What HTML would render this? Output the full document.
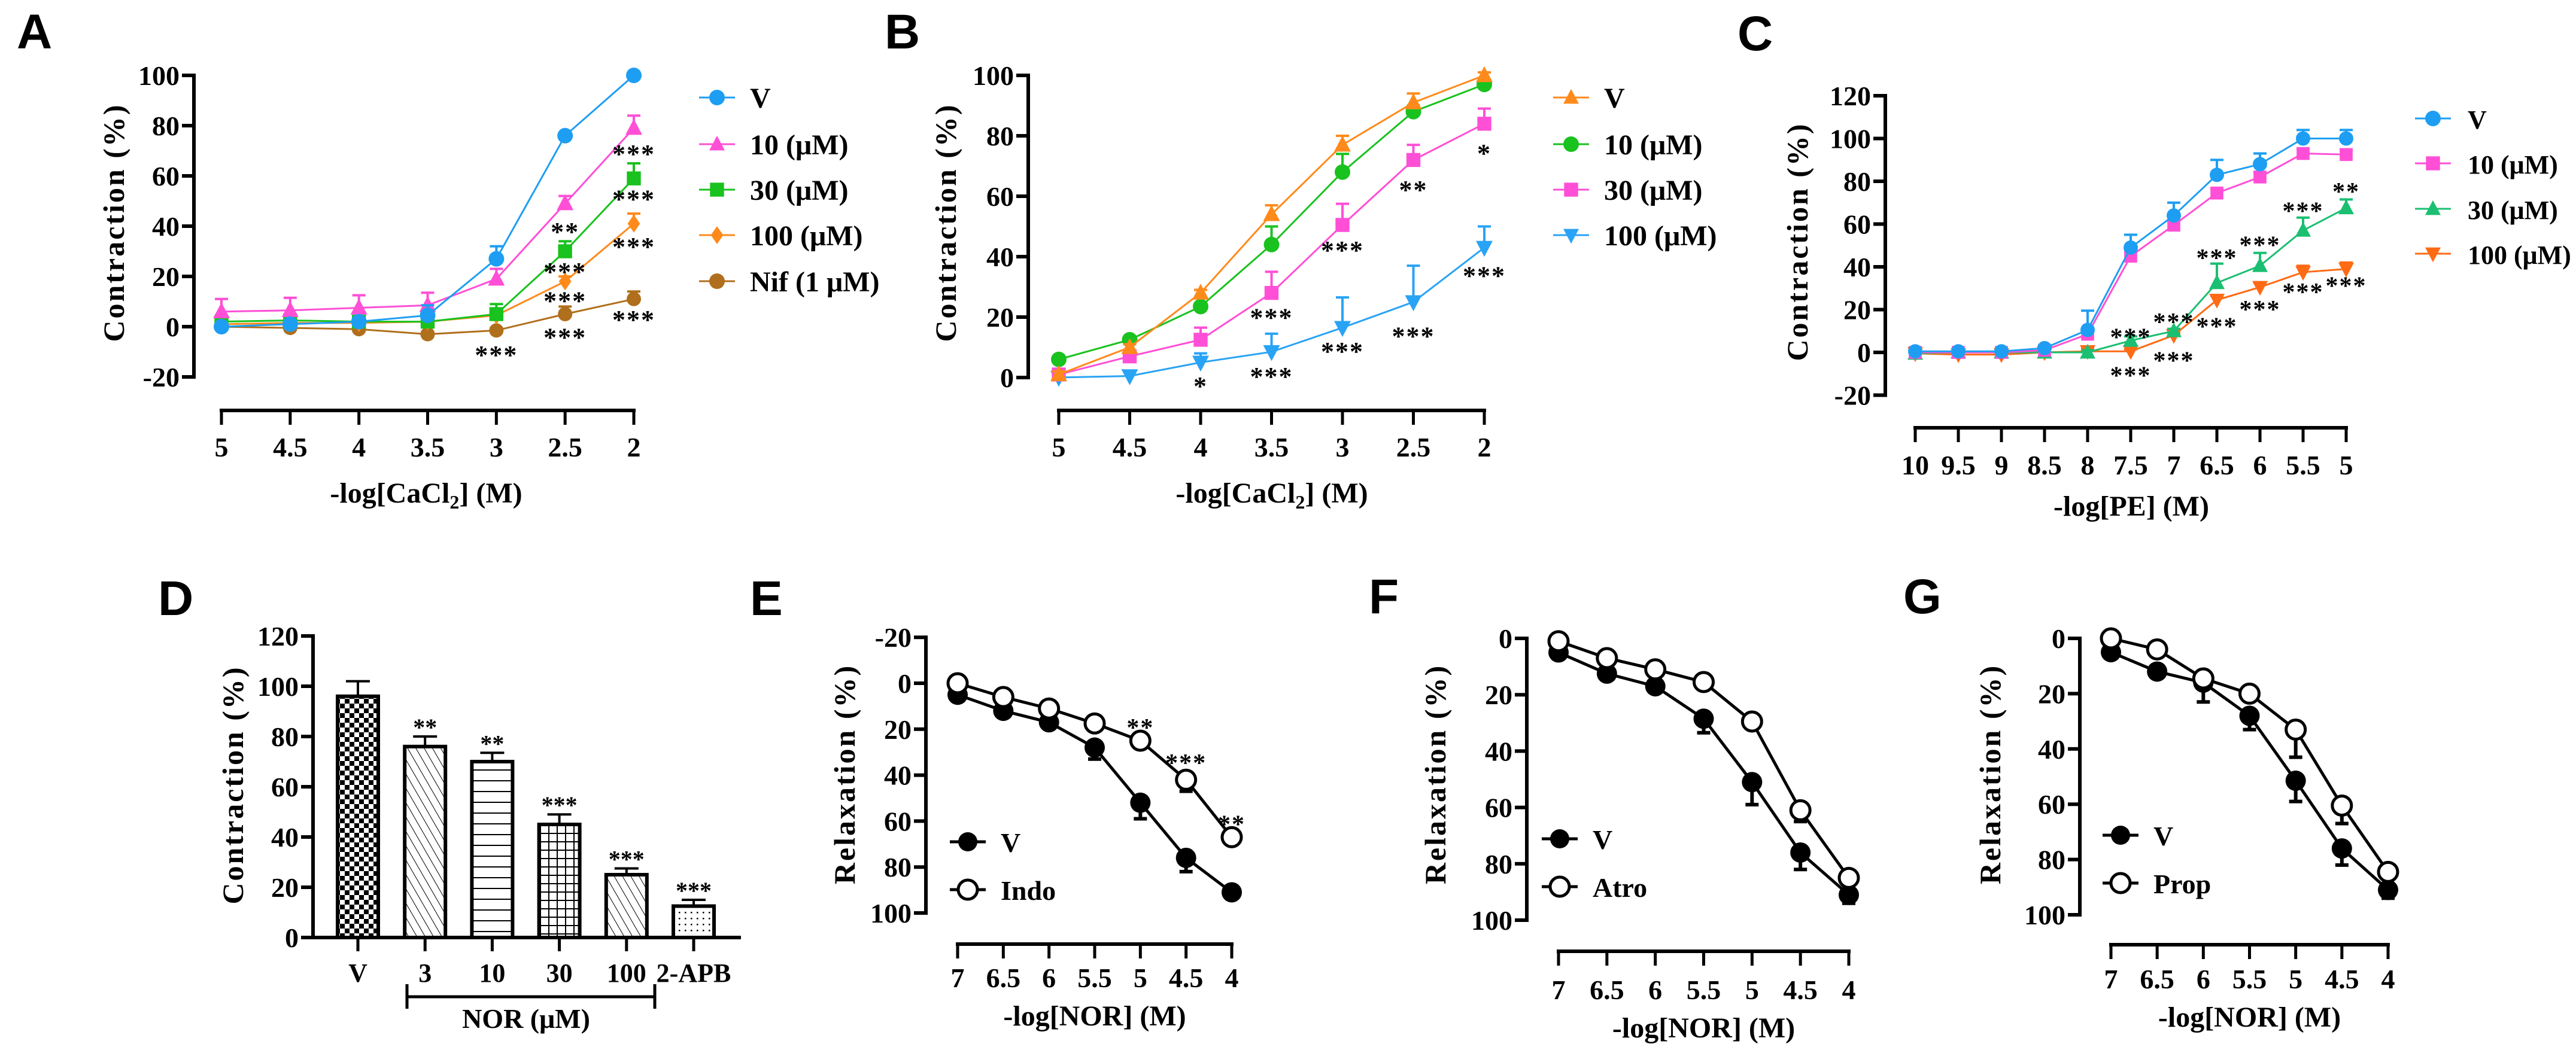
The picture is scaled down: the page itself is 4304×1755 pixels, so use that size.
<!DOCTYPE html>
<html><head><meta charset="utf-8"><style>
html,body{margin:0;padding:0;background:#fff;}
svg{display:block;}
text{font-family:"Liberation Serif",serif;font-weight:bold;fill:#000;}
.lt{font-family:"Liberation Sans",sans-serif;font-weight:bold;}
</style></head><body>
<svg id="fig" width="4304" height="1755" viewBox="0 0 4304 1755" xmlns="http://www.w3.org/2000/svg">
<defs>
<pattern id="pCheck" width="16" height="16" patternUnits="userSpaceOnUse"><rect width="16" height="16" fill="#fff"/><rect width="8" height="8" fill="#000"/><rect x="8" y="8" width="8" height="8" fill="#000"/></pattern>
<pattern id="pDiag" width="12" height="12" patternUnits="userSpaceOnUse" patternTransform="rotate(-30)"><rect width="12" height="12" fill="#fff"/><line x1="0" y1="0" x2="0" y2="12" stroke="#000" stroke-width="2"/></pattern>
<pattern id="pHor" width="10" height="18" patternUnits="userSpaceOnUse"><rect width="10" height="18" fill="#fff"/><line x1="0" y1="9" x2="10" y2="9" stroke="#000" stroke-width="2"/></pattern>
<pattern id="pGrid" width="14" height="14" patternUnits="userSpaceOnUse"><rect width="14" height="14" fill="#fff"/><line x1="7" y1="0" x2="7" y2="14" stroke="#000" stroke-width="2"/><line x1="0" y1="7" x2="14" y2="7" stroke="#000" stroke-width="2"/></pattern>
<pattern id="pDot" width="10" height="10" patternUnits="userSpaceOnUse"><rect width="10" height="10" fill="#fff"/><rect x="4" y="4" width="2.5" height="2.5" fill="#000"/></pattern>
</defs>
<g id="root"></g>
</svg>
<script>
// ---------- Panel A data ----------
const A_x = [5,4.5,4,3.5,3,2.5,2];
const A_V = [0,1,2,4.5,27,76,100];
const A_V_err = [1,1,1,4,5,1,1];
const A_10 = [6,6.5,7.5,8.5,19,49,79];
const A_10_err = [5,5,5,5,4,3,5];
const A_30 = [2,2.5,2,2,5,30,59];
const A_30_err = [2,2,1,1,4,4,6];
const A_100 = [1,1.5,1.5,2,4.5,18,41];
const A_100_err = [1,1,1,1,1,2,4];
const A_Nif = [0,-0.5,-1,-3,-1.5,5,11];
const A_Nif_err = [1,1,1,1,1,3,3];
const A_legend = ["V","10 (μM)","30 (μM)","100 (μM)","Nif (1 μM)"];
const A_xticks = ["5","4.5","4","3.5","3","2.5","2"];
const A_yticks = [-20,0,20,40,60,80,100];
const A_stars = [[3,-9,"***"],[2.5,40,"**"],[2.5,24,"***"],[2.5,12.5,"***"],[2.5,-2,"***"],[2,71,"***"],[2,53,"***"],[2,34,"***"],[2,5,"***"]];
// ---------- Panel B data ----------
const B_x = [5,4.5,4,3.5,3,2.5,2];
const B_V = [1,10,28,54,77,91,100];
const B_V_err = [1,1,1,3,3,3,1];
const B_10 = [6,12.5,23.5,44,68,88,97];
const B_10_err = [1,1,1,6,6,2,1];
const B_30 = [1,7,12.5,28,50.5,72,84];
const B_30_err = [1,1,4,7,7,5,5];
const B_100 = [0,0.5,5,8.5,16.5,25,43];
const B_100_err = [0,0,3,6,10,12,7];
const B_legend = ["V","10 (μM)","30 (μM)","100 (μM)"];
const B_yticks = [0,20,40,60,80,100];
const B_stars = [[4,-1,"*"],[3.5,21.7,"***"],[3.5,2.2,"***"],[3,44,"***"],[3,10.5,"***"],[2.5,64,"**"],[2.5,15.5,"***"],[2,76,"*"],[2,35.5,"***"]];
// ---------- Panel C data ----------
const C_x = [10,9.5,9,8.5,8,7.5,7,6.5,6,5.5,5];
const C_V = [0.5,0.5,0.5,2,10.5,49,64,83,88,100,100];
const C_V_err = [0,0,0,1,9,6,6,7,5,4,4];
const C_10 = [0,0,0,1,8.5,45,59.5,74.5,82,93,92.5];
const C_10_err = [0,0,0,1,1,2,2,2,2,2,2];
const C_30 = [-0.5,0,0,0,0,5.5,10,32.5,40.5,57,67.5];
const C_30_err = [0,0,0,0,1,2,1,9,6,6,4];
const C_100 = [-0.5,-1,-1,0,0.5,0.5,8,24.5,30.5,37.5,39];
const C_100_err = [0,0,0,0,1,1,1,2,2,3,3];
const C_legend = ["V","10 (μM)","30 (μM)","100 (μM)"];
const C_xticks = ["10","9.5","9","8.5","8","7.5","7","6.5","6","5.5","5"];
const C_yticks = [-20,0,20,40,60,80,100,120];
const C_stars = [[7.5,10,"***"],[7.5,-8,"***"],[7,17,"***"],[7,-1,"***"],[6.5,47,"***"],[6.5,15,"***"],[6,53,"***"],[6,23,"***"],[5.5,69,"***"],[5.5,31,"***"],[5,78,"**"],[5,34,"***"]];
// ---------- Panel D data ----------
const D_cats = ["V","3","10","30","100","2-APB"];
const D_vals = [96,76,70,45,25,12.5];
const D_err = [6,4,3.5,4,2.5,2.5];
const D_sig = ["","**","**","***","***","***"];
const D_yticks = [0,20,40,60,80,100,120];
// ---------- Panels E/F/G data ----------
const N_x = [7,6.5,6,5.5,5,4.5,4];
const N_xticks = ["7","6.5","6","5.5","5","4.5","4"];
const E_V = [5,12,17,28,52,76,91];
const E_V_err = [0,0,0,5,7,6,0];
const E_Indo = [0,6,11,17.5,25,42,67];
const E_Indo_err = [0,0,0,0,0,5,0];
const E_yticks = [-20,0,20,40,60,80,100];
const E_stars = [[5,16.7,"**"],[4.5,32,"***"],[4,58.7,"**"]];
const F_V = [5,12.5,17,28.5,51,76,91];
const F_V_err = [0,0,0,5,8,6,3];
const F_Atro = [1,7,11,15.5,29.5,61,85];
const F_Atro_err = [0,0,0,0,0,4,0];
const G_V = [5,12,16,28,51.5,76,91];
const G_V_err = [0,0,7,5,7.5,6,3];
const G_Prop = [0,4,14.5,20,33,60.5,84.5];
const G_Prop_err = [0,0,0,0,10,6.5,0];
const NOR_yticks = [0,20,40,60,80,100];

const NS = "http://www.w3.org/2000/svg";
const root = document.getElementById('root');
function mk(tag, attrs, parent){const e=document.createElementNS(NS,tag);for(const k in attrs)e.setAttribute(k,attrs[k]);(parent||root).appendChild(e);return e;}
function lin(d0,d1,r0,r1){return v=>r0+(v-d0)*(r1-r0)/(d1-d0);}
function txt(x,y,s,size,anchor,parent,cls){const t=mk('text',{x:x,y:y,'font-size':size,'text-anchor':anchor||'start'},parent);if(cls)t.setAttribute('class',cls);t.textContent=s;return t;}

function marker(shape,x,y,r,color,parent,filled){
  let e;
  if(shape==='circle') e=mk('circle',{cx:x,cy:y,r:r},parent);
  else if(shape==='square') e=mk('rect',{x:x-r*0.9,y:y-r*0.9,width:r*1.8,height:r*1.8},parent);
  else if(shape==='tri') e=mk('polygon',{points:`${x},${y-r*1.1} ${x+r},${y+r*0.8} ${x-r},${y+r*0.8}`},parent);
  else if(shape==='dtri') e=mk('polygon',{points:`${x},${y+r*1.1} ${x+r},${y-r*0.8} ${x-r},${y-r*0.8}`},parent);
  else if(shape==='diamond') e=mk('polygon',{points:`${x},${y-r*1.15} ${x+r*0.8},${y} ${x},${y+r*1.15} ${x-r*0.8},${y}`},parent);
  if(filled===false){e.setAttribute('fill','#fff');e.setAttribute('stroke',color);e.setAttribute('stroke-width','5');}
  else e.setAttribute('fill',color);
  return e;
}

function panelLetter(ch,x,y){
  const t=txt(x,y,ch,82,'start',root,'lt');
  
  
}

function yAxis(g,ax,ys,ticks,top,bottom,pfx){
  const l=mk('line',{x1:ax,y1:top-3,x2:ax,y2:bottom+3,stroke:'#000','stroke-width':6},g);
  
  
  ticks.forEach(v=>{
    const y=ys(v);
    mk('line',{x1:ax-20,y1:y,x2:ax,y2:y,stroke:'#000','stroke-width':6},g);
    const t=txt(ax-24,y+16,String(v),46,'end',g);
    
    
  });
}
function xAxis(g,ay,xs,xvals,labels,base,pfx){
  const x0=xs(xvals[0]),x1=xs(xvals[xvals.length-1]);
  const l=mk('line',{x1:x0-3,y1:ay,x2:x1+3,y2:ay,stroke:'#000','stroke-width':6},g);
  
  
  xvals.forEach((v,i)=>{
    const x=xs(v);
    mk('line',{x1:x,y1:ay,x2:x,y2:ay+24,stroke:'#000','stroke-width':5},g);
    const t=txt(x,base,labels[i],46,'middle',g);
    
    
  });
}
function titles(g,xt,xx,xy,yt,yx,yy,pfx){
  const a=txt(xx,xy,'',48,'middle',g);
  a.innerHTML=xt;
  
  
  const b=txt(0,0,yt,50,'middle',g);
  b.setAttribute('transform',`translate(${yx},${yy}) rotate(-90)`);
  b.setAttribute('letter-spacing','3');
  b.setAttribute('dy','17');
  
  
}
function series(g,xs,ys,xv,vals,errs,color,shape,r,lw,name,dir,filled){
  const sg=mk('g',{},g);
  
  
  const pts=vals.map((v,i)=>xs(xv[i])+','+ys(v)).join(' ');
  const pl=mk('polyline',{points:pts,fill:'none',stroke:color,'stroke-width':lw},sg);
  
  
  vals.forEach((v,i)=>{
    const x=xs(xv[i]);
    if(errs[i]>0){
      const ye=ys(v+errs[i]);
      const eb=mk('path',{d:`M${x},${ys(v)}V${ye}M${x-11},${ye}H${x+11}`,stroke:color,'stroke-width':lw+1,fill:'none'},sg);
      
      
    }
    const m=marker(shape,x,ys(v),r,color,sg,filled);
    
    
  });
}
function stars(g,xs,ys,list,size){
  list.forEach(s=>{
    const t=txt(xs(s[0]),ys(s[1])+24,s[2],size||44,'middle',g);
    t.setAttribute('letter-spacing','2');
    
    
  });
}
function legend(g,items,x,ys,tx,size,r,lw,pfx){
  items.forEach((it,i)=>{
    const lg=mk('g',{},g);
    
    
    mk('line',{x1:x-30,y1:ys[i],x2:x+30,y2:ys[i],stroke:it.color,'stroke-width':lw},lg);
    marker(it.shape,x,ys[i],r,it.color,lg,it.filled);
    const t=txt(tx,ys[i]+17,it.label,size,'start',lg);
    
    
  });
}

const blue='#1e9ef2', pink='#ff4fd6', green='#19c21e', orange='#ff8a1c', brown='#b06f1c', teal='#1bbf72', orng2='#ff6a14';

// ---------- Panel A ----------
(function(){
  const g=mk('g',{});
  
  
  panelLetter('A',28,81);
  const xs=lin(5,2,370,1059), ys=lin(0,100,546,126);
  yAxis(g,324,ys,A_yticks,ys(100),ys(-20),'panel-a');
  xAxis(g,686,xs,A_x,A_xticks,763,'panel-a');
  titles(g,'-log[CaCl<tspan font-size="32" dy="10">2</tspan><tspan dy="-10">] (M)</tspan>',712,840,'Contraction (%)',190,372,'panel-a');
  series(g,xs,ys,A_x,A_Nif,A_Nif_err,brown,'circle',12,3,'series-a-nif');
  series(g,xs,ys,A_x,A_100,A_100_err,orange,'diamond',13,3,'series-a-100um');
  series(g,xs,ys,A_x,A_30,A_30_err,green,'square',13,3,'series-a-30um');
  series(g,xs,ys,A_x,A_10,A_10_err,pink,'tri',14,3,'series-a-10um');
  series(g,xs,ys,A_x,A_V,A_V_err,blue,'circle',13,3,'series-a-v');
  stars(g,xs,ys,A_stars);
  legend(g,[{label:A_legend[0],color:blue,shape:'circle'},{label:A_legend[1],color:pink,shape:'tri'},{label:A_legend[2],color:green,shape:'square'},{label:A_legend[3],color:orange,shape:'diamond'},{label:A_legend[4],color:brown,shape:'circle'}],1198,[163,241,317,393,470],1253,48,13,3,'panel-a');
})();

// ---------- Panel B ----------
(function(){
  const g=mk('g',{});
  
  
  panelLetter('B',1478,81);
  const xs=lin(5,2,1769,2480), ys=lin(0,100,631,126);
  yAxis(g,1718,ys,B_yticks,ys(100),ys(0),'panel-b');
  xAxis(g,686,xs,B_x,A_xticks,763,'panel-b');
  titles(g,'-log[CaCl<tspan font-size="32" dy="10">2</tspan><tspan dy="-10">] (M)</tspan>',2125,840,'Contraction (%)',1580,372,'panel-b');
  series(g,xs,ys,B_x,B_100,B_100_err,'#29a3f5','dtri',14,3,'series-b-100um');
  series(g,xs,ys,B_x,B_30,B_30_err,pink,'square',13,3,'series-b-30um');
  series(g,xs,ys,B_x,B_10,B_10_err,green,'circle',13,3,'series-b-10um');
  series(g,xs,ys,B_x,B_V,B_V_err,orange,'tri',14,3,'series-b-v');
  stars(g,xs,ys,B_stars);
  legend(g,[{label:B_legend[0],color:orange,shape:'tri'},{label:B_legend[1],color:green,shape:'circle'},{label:B_legend[2],color:pink,shape:'square'},{label:B_legend[3],color:'#29a3f5',shape:'dtri'}],2625,[163,241,317,393],2680,48,13,3,'panel-b');
})();

// ---------- Panel C ----------
(function(){
  const g=mk('g',{});
  
  
  panelLetter('C',2903,84);
  const xs=lin(10,5,3200,3920), ys=lin(0,120,589,160);
  yAxis(g,3150,ys,C_yticks,ys(120),ys(-20),'panel-c');
  xAxis(g,715,xs,C_x,C_xticks,793,'panel-c');
  titles(g,'-log[PE] (M)',3561,862,'Contraction (%)',3003,404,'panel-c');
  series(g,xs,ys,C_x,C_100,C_100_err,orng2,'dtri',13,3,'series-c-100um');
  series(g,xs,ys,C_x,C_30,C_30_err,teal,'tri',13,3,'series-c-30um');
  series(g,xs,ys,C_x,C_10,C_10_err,pink,'square',12,3,'series-c-10um');
  series(g,xs,ys,C_x,C_V,C_V_err,blue,'circle',12,3,'series-c-v');
  stars(g,xs,ys,C_stars,42);
  legend(g,[{label:C_legend[0],color:blue,shape:'circle'},{label:C_legend[1],color:pink,shape:'square'},{label:C_legend[2],color:teal,shape:'tri'},{label:C_legend[3],color:orng2,shape:'dtri'}],4065,[198,273,349,424],4123,44,13,3,'panel-c');
})();

// ---------- Panel D ----------
(function(){
  const g=mk('g',{});
  
  
  panelLetter('D',264,1028);
  const ys=lin(0,120,1567,1063);
  const xs=i=>598+i*112.2;
  const fills=['url(#pCheck)','url(#pDiag)','url(#pHor)','url(#pGrid)','url(#pDiag)','url(#pDot)'];
  yAxis(g,523,ys,D_yticks,ys(120),ys(0),'panel-d');
  const ax=mk('line',{x1:520,y1:1567,x2:1238,y2:1567,stroke:'#000','stroke-width':6},g);
  
  
  D_vals.forEach((v,i)=>{
    const x=xs(i);
    mk('line',{x1:x,y1:1567,x2:x,y2:1590,stroke:'#000','stroke-width':5},g);
    const et=ys(v+D_err[i]);
    const eb=mk('path',{d:`M${x},${ys(v)}V${et}M${x-20},${et}H${x+20}`,stroke:'#000','stroke-width':4,fill:'none'},g);
    
    
    const b=mk('rect',{x:x-34,y:ys(v),width:68,height:1567-ys(v),fill:fills[i],stroke:'#000','stroke-width':6},g);
    
    
    if(D_sig[i]){
      const s=txt(x,et-2,D_sig[i],40,'middle',g);
      
      
    }
    const t=txt(x,1641,D_cats[i],44,'middle',g);
    
    
  });
  const br=mk('path',{d:'M680,1645V1686M680,1666H1094M1094,1645V1686',stroke:'#000','stroke-width':5,fill:'none'},g);
  
  
  const nt=txt(879,1718,'NOR (μM)',46,'middle',g);
  
  
  const yt=txt(0,0,'Contraction (%)',50,'middle',g);
  yt.setAttribute('transform','translate(389,1312) rotate(-90)');
  yt.setAttribute('dy','17');
  yt.setAttribute('letter-spacing','3');
  
  
})();

// ---------- Panels E/F/G ----------
function norPanel(cfg){
  const g=mk('g',{});
  
  
  panelLetter(cfg.letter,cfg.lx,cfg.ly);
  const xs=lin(7,4,cfg.x0,cfg.x1), ys=lin(0,100,cfg.y0,cfg.y100);
  yAxis(g,cfg.ax,ys,cfg.yticks,ys(cfg.yticks[0]),ys(100),cfg.pfx);
  xAxis(g,cfg.ay,xs,N_x,N_xticks,cfg.tb,cfg.pfx);
  titles(g,'-log[NOR] (M)',(cfg.x0+cfg.x1)/2,cfg.tb+64,'Relaxation (%)',cfg.ytx,1294,cfg.pfx);
  series(g,xs,ys,N_x,cfg.v,cfg.verr,'#000','circle',17,5,cfg.pfx+'-series-v');
  series(g,xs,ys,N_x,cfg.o,cfg.oerr,'#000','circle',16,5,cfg.pfx+'-series-'+cfg.oname.toLowerCase(),null,false);
  if(cfg.stars) stars(g,xs,ys,cfg.stars,42);
  legend(g,[{label:'V',color:'#000',shape:'circle'},{label:cfg.oname,color:'#000',shape:'circle',filled:false}],cfg.legx,[cfg.legy,cfg.legy+80],cfg.legx+55,46,16,5,cfg.pfx);
}
norPanel({pfx:'panel-e',letter:'E',lx:1253,ly:1028,x0:1600,x1:2058,y0:1142,y100:1526,ax:1547,ay:1578,tb:1650,ytx:1411,yticks:E_yticks,v:E_V,verr:E_V_err,o:E_Indo,oerr:E_Indo_err,oname:'Indo',stars:E_stars,legx:1617,legy:1407});
norPanel({pfx:'panel-f',letter:'F',lx:2287,ly:1025,x0:2604,x1:3089,y0:1067,y100:1538,ax:2551,ay:1590,tb:1670,ytx:2398,yticks:NOR_yticks,v:F_V,verr:F_V_err,o:F_Atro,oerr:F_Atro_err,oname:'Atro',legx:2606,legy:1402});
norPanel({pfx:'panel-g',letter:'G',lx:3180,ly:1025,x0:3527,x1:3990,y0:1067,y100:1529,ax:3475,ay:1579,tb:1652,ytx:3325,yticks:NOR_yticks,v:G_V,verr:G_V_err,o:G_Prop,oerr:G_Prop_err,oname:'Prop',legx:3543,legy:1396});
</script>
</body></html>
